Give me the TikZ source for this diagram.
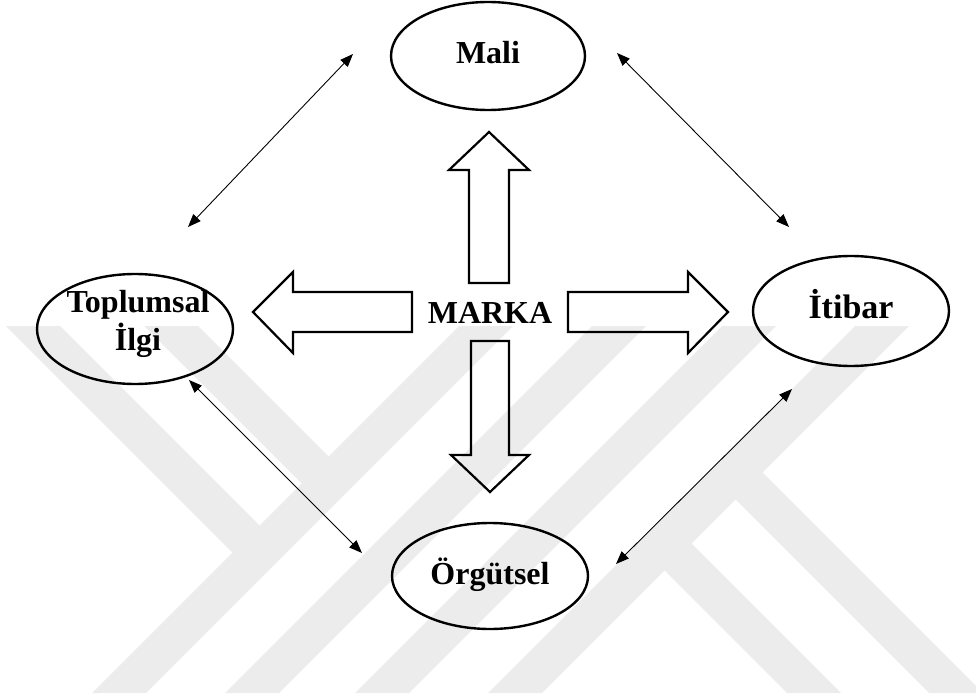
\documentclass[tikz,border=0pt]{standalone}
\usepackage{fontspec}
\setmainfont{Liberation Serif}
\usetikzlibrary{shapes.geometric,arrows.meta}
\definecolor{wmgrey}{gray}{0.925}
\begin{document}
\begin{tikzpicture}[x=1pt,y=-1pt,
  concept/.style={ellipse,draw,line width=2.4pt,inner sep=0pt,
    font=\bfseries\fontsize{32}{40}\selectfont,align=center},
  oneline/.style={text height=23pt,text depth=7pt},
  caption/.style={inner sep=0pt,font=\bfseries\fontsize{32}{38}\selectfont,align=center},
  blockarrow/.style={draw,line width=2.2pt,line join=miter},
  link/.style={line width=0.9pt,
    {Triangle[length=13pt,width=10pt]}-{Triangle[length=13pt,width=10pt]}},
  band/.style={fill=wmgrey}]
\useasboundingbox (0,0) rectangle (976,700);

% background emblem: four rising bands, two falling bands entering from
% the upper left and two leaving towards the lower right
\begin{scope}
  \clip (0,326) rectangle (976,693);
  \foreach \a/\b in {785/839,918/972,1048/1102,1181/1235}
    \fill[band] ({\a-326},326) -- ({\b-326},326) -- ({\b-693},693) -- ({\a-693},693) -- cycle;
  \foreach \a/\b in {-320/-266,-182/-128}
    \fill[band] ({\a+326},326) -- ({\b+326},326)
      -- ({(790+\b)/2},{(790-\b)/2}) -- ({(790+\a)/2},{(790-\a)/2}) -- cycle;
  \foreach \a/\b in {94/148,236/290}
    \fill[band] ({(1230+\a)/2},{(1230-\a)/2}) -- ({(1230+\b)/2},{(1230-\b)/2})
      -- ({\b+693},693) -- ({\a+693},693) -- cycle;
\end{scope}

% concepts around the brand
\node[concept,oneline,minimum width=194pt,minimum height=108pt] (mali) at (488,56) {Mali};
\node[concept,minimum width=196pt,minimum height=110pt] (toplum) at (135,329) {};
\node[caption] (toplumtext) at (138,324) {Toplumsal\\İlgi};
\node[concept,oneline,minimum width=196pt,minimum height=110pt,
  font=\bfseries\fontsize{34}{40}\selectfont] (itibar) at (851,311) {İtibar};
\node[concept,oneline,minimum width=196pt,minimum height=106pt] (orgut) at (490,576) {Örgütsel};
\node[caption] (marka) at (490,312.5) {MARKA};

% hollow block arrows pointing out of the brand
\draw[blockarrow] (469,283) -- (469,170) -- (449,170) -- (489,132) -- (529,170) -- (509,170) -- (509,283) -- cycle;
\draw[blockarrow] (412,292) -- (293,292) -- (293,272) -- (253,312) -- (293,353) -- (293,332) -- (412,332) -- cycle;
\draw[blockarrow] (568,292) -- (688,292) -- (688,272) -- (728,312) -- (688,353) -- (688,332) -- (568,332) -- cycle;
\draw[blockarrow] (471,341) -- (471,455) -- (451,455) -- (490,492) -- (529,455) -- (509,455) -- (509,341) -- cycle;

% two-way links between neighbouring concepts
\coordinate (tm1) at (188,227);
\coordinate (tm2) at (353,54);
\coordinate (mi1) at (617,53);
\coordinate (mi2) at (789,227);
\coordinate (to1) at (189,380);
\coordinate (to2) at (362,553);
\coordinate (io1) at (792,389);
\coordinate (io2) at (616,564);
\draw[link] (tm1) -- (tm2);
\draw[link] (mi1) -- (mi2);
\draw[link] (to1) -- (to2);
\draw[link] (io1) -- (io2);
\end{tikzpicture}
\end{document}
